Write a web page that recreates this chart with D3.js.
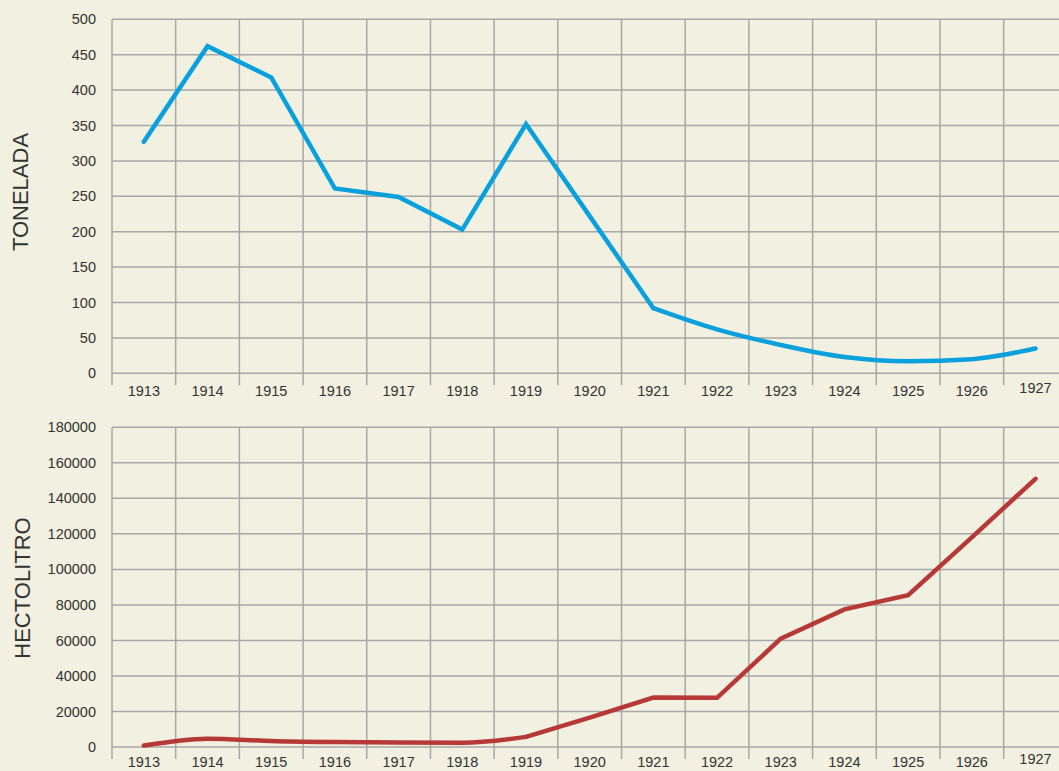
<!DOCTYPE html>
<html>
<head>
<meta charset="utf-8">
<script src="https://cdn.jsdelivr.net/npm/d3@7"></script>
<style>
  html, body { margin: 0; padding: 0; background: #f2f0e1; }
  svg { display: block; }
  text { font-family: "Liberation Sans", Arial, sans-serif; fill: #333; }
</style>
</head>
<body>
<svg id="chart" width="1059" height="771"></svg>
<script>
const years = ["1913","1914","1915","1916","1917","1918","1919","1920","1921","1922","1923","1924","1925","1926","1927"];
const toneladas = [327, 462, 418, 261, 249, 203, 352, 222, 92, 62, 40, 23, 17, 20, 35];
const hectolitros = [800, 4700, 3400, 2800, 2500, 2400, 5700, 16500, 27800, 27700, 61000, 77500, 85500, 118000, 151000];
const topTicks = [0, 50, 100, 150, 200, 250, 300, 350, 400, 450, 500];
const bottomTicks = [0, 20000, 40000, 60000, 80000, 100000, 120000, 140000, 160000, 180000];

const W = 1059, H = 771;
const svg = d3.select("#chart");
svg.append("rect").attr("width", W).attr("height", H).attr("fill", "#f2f0e1");

const x = d3.scaleBand().domain(years).range([112, 112 + 15 * 63.69]).padding(0);
const gridColor = "#a7a7a7";

function panel(opts) {
  const y = d3.scaleLinear().domain([0, opts.max]).range([opts.bottom, opts.top]);
  const g = svg.append("g");
  g.selectAll("line.h").data(opts.ticks).join("line")
    .attr("x1", 112).attr("x2", W)
    .attr("y1", d => y(d)).attr("y2", d => y(d))
    .attr("stroke", gridColor).attr("stroke-width", 1.5);
  g.selectAll("line.v").data(years).join("line")
    .attr("x1", d => x(d)).attr("x2", d => x(d))
    .attr("y1", opts.top).attr("y2", opts.bottom + 12)
    .attr("stroke", gridColor).attr("stroke-width", 1.5);
  g.selectAll("text.yl").data(opts.ticks).join("text")
    .attr("x", 96).attr("y", d => y(d)).attr("dy", "0.35em")
    .attr("text-anchor", "end").attr("font-size", 14.5)
    .text(d => d);
  g.selectAll("text.xl").data(years).join("text")
    .attr("x", d => x(d) + x.bandwidth() / 2)
    .attr("y", d => opts.bottom + (d === "1927" ? opts.labelOff - 3 : opts.labelOff))
    .attr("text-anchor", "middle").attr("font-size", 14.5)
    .text(d => d);
  g.append("text")
    .attr("transform", `translate(${opts.titleX},${opts.titleY}) rotate(-90)`)
    .attr("text-anchor", "middle").attr("dy", "0.35em")
    .attr("font-size", 22)
    .text(opts.title);
  const pts = opts.values.map((v, i) => [x(years[i]) + x.bandwidth() / 2, y(v)]);
  opts.segments.forEach(([a, b, curve]) => {
    g.append("path").datum(pts.slice(a, b + 1))
      .attr("d", d3.line().curve(curve))
      .attr("fill", "none")
      .attr("stroke", opts.color).attr("stroke-width", 4.5)
      .attr("stroke-linejoin", "miter").attr("stroke-linecap", "round");
  });
}

panel({ values: toneladas, ticks: topTicks, max: 500, top: 19.3, bottom: 373.3, labelOff: 23,
        segments: [[0, 8, d3.curveLinear], [8, 14, d3.curveMonotoneX]],
        color: "#09a1dd", title: "TONELADA", titleX: 20, titleY: 192 });
panel({ values: hectolitros, ticks: bottomTicks, max: 180000, top: 427.3, bottom: 747, labelOff: 20,
        segments: [[0, 6, d3.curveMonotoneX], [6, 14, d3.curveLinear]],
        color: "#b73936", title: "HECTOLITRO", titleX: 22, titleY: 588 });
</script>
</body>
</html>
